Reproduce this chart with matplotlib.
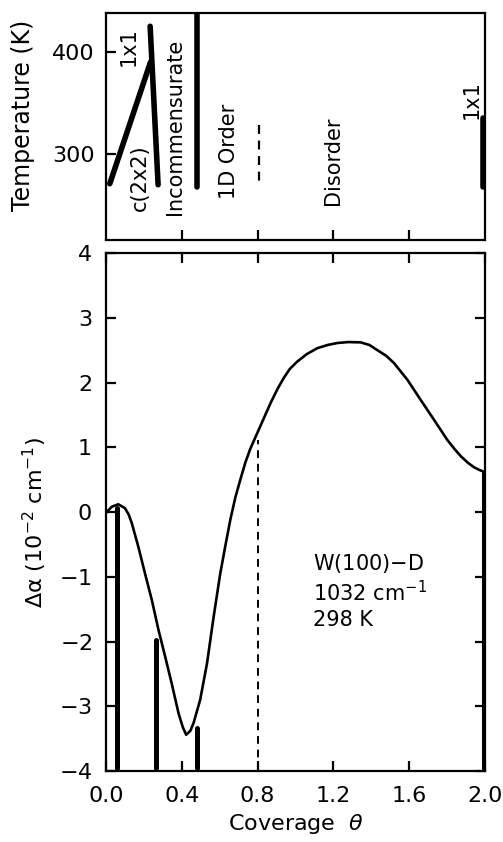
import numpy as np
import matplotlib
matplotlib.use("Agg")
import matplotlib.pyplot as plt

# ---- data ----
# absorbance change vs coverage (W(100)-D, 1032 cm^-1, 298 K)
coverage = [0.004, 0.030, 0.065, 0.100, 0.120, 0.136, 0.171, 0.206, 0.242,
            0.277, 0.312, 0.347, 0.383, 0.405, 0.423, 0.445, 0.462, 0.497,
            0.533, 0.568, 0.603, 0.630, 0.656, 0.683, 0.709, 0.735, 0.762,
            0.806, 0.868, 0.905, 0.938, 0.970, 1.008, 1.060, 1.115, 1.170,
            1.220, 1.280, 1.344, 1.390, 1.432, 1.480, 1.520, 1.591, 1.661,
            1.732, 1.802, 1.840, 1.873, 1.910, 1.943, 1.970, 1.996]
delta_alpha = [0.00, 0.08, 0.12, 0.06, -0.04, -0.17, -0.54, -0.95, -1.36,
               -1.82, -2.23, -2.65, -3.11, -3.32, -3.44, -3.38, -3.26, -2.90,
               -2.34, -1.62, -0.95, -0.52, -0.12, 0.23, 0.50, 0.76, 0.98,
               1.27, 1.68, 1.90, 2.07, 2.21, 2.32, 2.44, 2.53, 2.58,
               2.61, 2.625, 2.62, 2.58, 2.50, 2.41, 2.30, 2.04, 1.73,
               1.42, 1.11, 0.97, 0.86, 0.76, 0.69, 0.65, 0.62]

# phase-boundary bars in the lower panel (coverage, top value)
bar_cov = [0.06, 0.265, 0.48, 1.995]
bar_top = [0.06, -1.97, -3.33, 0.60]
bar_bottom = -3.95
dashed_cov = 0.80
dashed_top = 1.11

# phase diagram (upper panel): temperature boundaries
c2x2_left_cov = [0.02, 0.235]
c2x2_left_T = [271, 390]
c2x2_right_cov = [0.233, 0.275]
c2x2_right_T = [425, 270]
incomm_cov = [0.48, 0.48]
incomm_T = [437, 268]
order1d_cov = [0.805, 0.805]
order1d_T = [328, 270]
right_cov = [1.99, 1.99]
right_T = [335, 268]

phase_labels = ["1x1", "c(2x2)", "Incommensurate", "1D Order", "Disorder", "1x1"]
phase_label_cov = [0.118, 0.178, 0.365, 0.647, 1.196, 1.93]
phase_label_T = [405, 277, 327, 303, 293, 353]

x_ticks = [0.0, 0.4, 0.8, 1.2, 1.6, 2.0]
x_ticklabels = ["0.0", "0.4", "0.8", "1.2", "1.6", "2.0"]
y_ticks = [-4, -3, -2, -1, 0, 1, 2, 3, 4]
T_ticks = [300, 400]

plt.rcParams['font.family'] = ['DejaVu Sans']
plt.rcParams['mathtext.fontset'] = 'dejavusans'

fig = plt.figure(figsize=(5.03, 8.42), dpi=100)
left, width = 0.2107, 0.7535
ax_t = fig.add_axes([left, 0.7150, width, 0.9846 - 0.7150])
ax_b = fig.add_axes([left, 0.0843, width, 0.6995 - 0.0843])

for ax in (ax_t, ax_b):
    for s in ax.spines.values():
        s.set_linewidth(1.6)
    ax.set_xlim(0, 2.0)

# ---- upper panel ----
ax_t.set_ylim(216, 438)
thick = dict(color='black', lw=4, solid_capstyle='round')
ax_t.plot(c2x2_left_cov, c2x2_left_T, **thick)
ax_t.plot(c2x2_right_cov, c2x2_right_T, **thick)
ax_t.plot(incomm_cov, incomm_T, **thick)
ax_t.plot(right_cov, right_T, **thick)
ax_t.plot(order1d_cov, order1d_T, color='black', lw=1.6, ls=(0, (4, 3)))
for lab, xc, yc in zip(phase_labels, phase_label_cov, phase_label_T):
    ax_t.text(xc, yc, lab, rotation=90, ha='center', va='center', fontsize=15)

ax_t.set_xticks([0.4, 0.8, 1.2, 1.6])
ax_t.set_xticklabels([])
ax_t.set_yticks(T_ticks)
ax_t.set_yticklabels([str(t) for t in T_ticks], fontsize=16)
ax_t.tick_params(direction='in', length=7, width=1.6)
ax_t.tick_params(axis='y', pad=8)
ax_t.set_ylabel("Temperature (K)", fontsize=17)
ax_t.yaxis.set_label_coords(-0.187, 0.55)

# ---- lower panel ----
ax_b.set_ylim(-4, 4)
ax_b.plot(coverage, delta_alpha, color='black', lw=1.9, solid_joinstyle='round')
for xc, yt in zip(bar_cov, bar_top):
    ax_b.plot([xc, xc], [bar_bottom, yt], color='black', lw=3.6, solid_capstyle='round')
ax_b.plot([dashed_cov, dashed_cov], [-4, dashed_top], color='black', lw=1.4, ls=(0, (4, 3)))

ax_b.text(1.09, -0.62, "W(100)$-$D\n1032 cm$^{-1}$\n298 K", fontsize=15,
          ha='left', va='top', linespacing=1.25)

ax_b.set_xticks(x_ticks)
ax_b.set_xticklabels(x_ticklabels, fontsize=16)
ax_b.set_yticks(y_ticks)
ax_b.set_yticklabels([str(v) if v >= 0 else "$-$" + str(-v) for v in y_ticks], fontsize=16)
ax_b.tick_params(direction='in', length=7, width=1.6, top=True, right=True)
ax_b.tick_params(axis='x', pad=11)
ax_b.tick_params(axis='y', pad=10)
ax_b.set_xlabel(r"Coverage  $\theta$", fontsize=16, labelpad=4)
ax_b.set_ylabel("Δα (10$^{-2}$ cm$^{-1}$)", fontsize=16)
ax_b.yaxis.set_label_coords(-0.15, 0.48)

fig.savefig("out.png", dpi=100)
